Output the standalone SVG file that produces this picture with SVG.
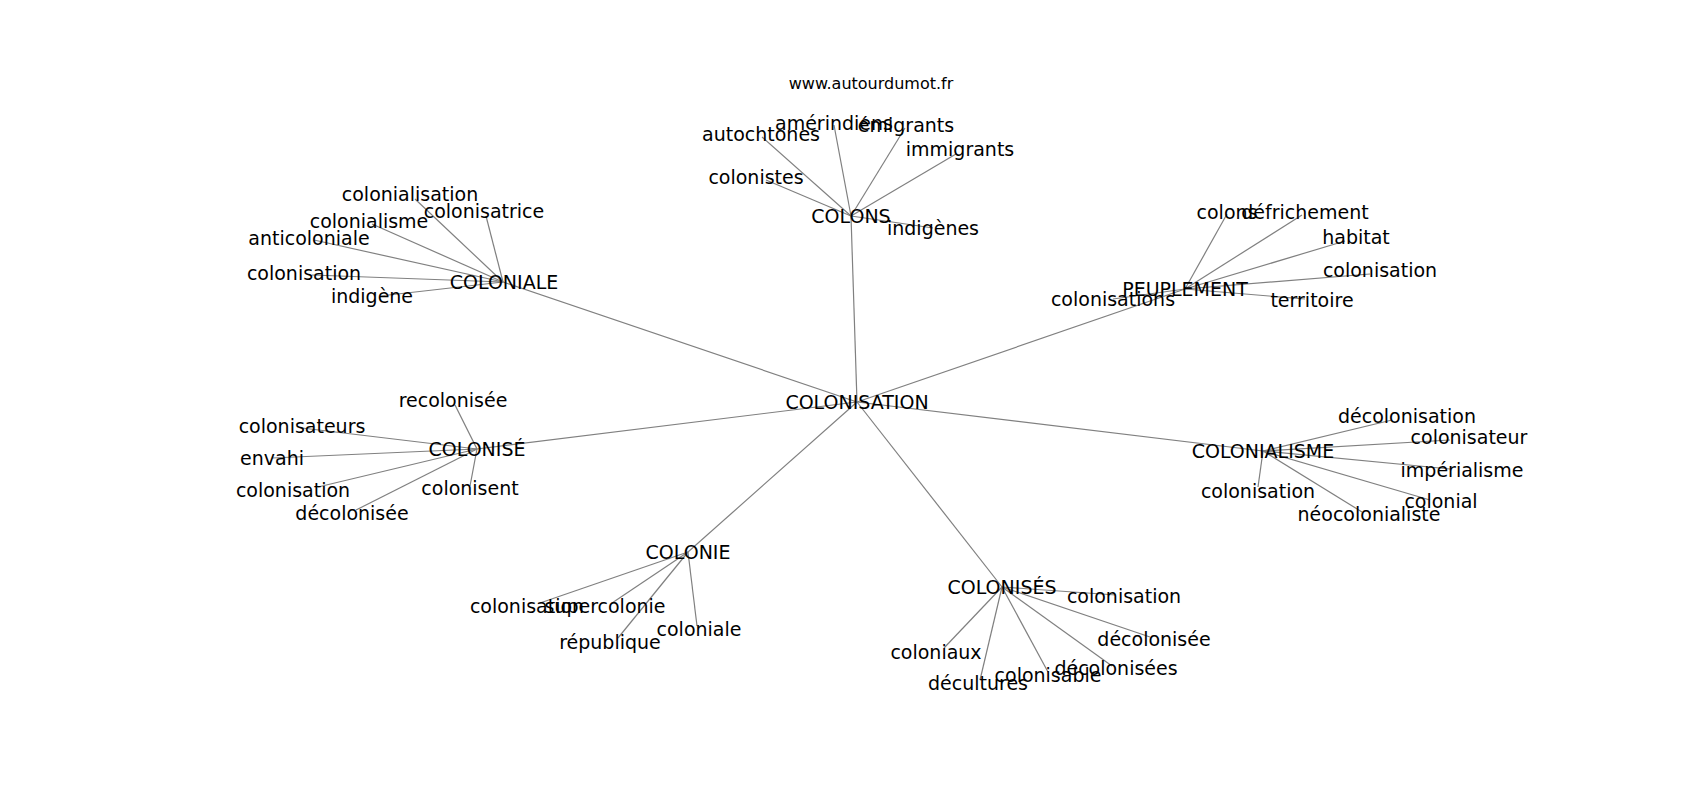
<svg xmlns="http://www.w3.org/2000/svg" width="1700" height="800" viewBox="0 0 1700 800">
<style>
text{font-family:"DejaVu Sans","Liberation Sans",sans-serif;font-size:19px;fill:#000;text-anchor:middle;dominant-baseline:central}
.title{font-size:16px}
#edges line{stroke:#808080;stroke-width:1.2}
</style>
<rect width="1700" height="800" fill="#fff"/>
<g id="edges">
<line x1="857" y1="402" x2="851" y2="216"/>
<line x1="857" y1="402" x2="503" y2="282"/>
<line x1="857" y1="402" x2="1185" y2="289"/>
<line x1="857" y1="402" x2="477" y2="449"/>
<line x1="857" y1="402" x2="1263" y2="451"/>
<line x1="857" y1="402" x2="688" y2="552"/>
<line x1="857" y1="402" x2="1002" y2="587"/>
<line x1="851" y1="216" x2="834" y2="125"/>
<line x1="851" y1="216" x2="905" y2="128"/>
<line x1="851" y1="216" x2="762" y2="137"/>
<line x1="851" y1="216" x2="956" y2="154"/>
<line x1="851" y1="216" x2="766" y2="180"/>
<line x1="851" y1="216" x2="933" y2="228"/>
<line x1="503" y1="282" x2="415" y2="199"/>
<line x1="503" y1="282" x2="486" y2="216"/>
<line x1="503" y1="282" x2="372" y2="224"/>
<line x1="503" y1="282" x2="314" y2="240"/>
<line x1="503" y1="282" x2="312" y2="275"/>
<line x1="503" y1="282" x2="380" y2="296"/>
<line x1="1185" y1="289" x2="1227" y2="214"/>
<line x1="1185" y1="289" x2="1302" y2="215"/>
<line x1="1185" y1="289" x2="1345" y2="241"/>
<line x1="1185" y1="289" x2="1370" y2="274"/>
<line x1="1185" y1="289" x2="1113" y2="299"/>
<line x1="1185" y1="289" x2="1305" y2="299"/>
<line x1="477" y1="449" x2="455" y2="405"/>
<line x1="477" y1="449" x2="302" y2="428"/>
<line x1="477" y1="449" x2="272" y2="458"/>
<line x1="477" y1="449" x2="318" y2="487"/>
<line x1="477" y1="449" x2="470" y2="486"/>
<line x1="477" y1="449" x2="356" y2="510"/>
<line x1="1263" y1="451" x2="1392" y2="420"/>
<line x1="1263" y1="451" x2="1450" y2="440"/>
<line x1="1263" y1="451" x2="1450" y2="469"/>
<line x1="1263" y1="451" x2="1258" y2="487"/>
<line x1="1263" y1="451" x2="1430" y2="500"/>
<line x1="1263" y1="451" x2="1362" y2="512"/>
<line x1="688" y1="552" x2="540" y2="603"/>
<line x1="688" y1="552" x2="612" y2="603"/>
<line x1="688" y1="552" x2="697" y2="626"/>
<line x1="688" y1="552" x2="618" y2="638"/>
<line x1="1002" y1="587" x2="1116" y2="595"/>
<line x1="1002" y1="587" x2="1150" y2="637"/>
<line x1="1002" y1="587" x2="944" y2="648"/>
<line x1="1002" y1="587" x2="1112" y2="666"/>
<line x1="1002" y1="587" x2="1048" y2="672"/>
<line x1="1002" y1="587" x2="980" y2="680"/>
</g>
<text class="title" x="871" y="83">www.autourdumot.fr</text>
<g id="n-colonisation"><text x="857" y="402">COLONISATION</text></g>
<g id="n-colons"><text x="851" y="216">COLONS</text></g>
<g id="n-colons-amerindiens"><text x="834" y="123">amérindiens</text></g>
<g id="n-colons-emigrants"><text x="906" y="125">émigrants</text></g>
<g id="n-colons-autochtones"><text x="761" y="134">autochtones</text></g>
<g id="n-colons-immigrants"><text x="960" y="149">immigrants</text></g>
<g id="n-colons-colonistes"><text x="756" y="177">colonistes</text></g>
<g id="n-colons-indigenes"><text x="933" y="228">indigènes</text></g>
<g id="n-coloniale"><text x="504" y="282">COLONIALE</text></g>
<g id="n-coloniale-colonialisation"><text x="410" y="194">colonialisation</text></g>
<g id="n-coloniale-colonisatrice"><text x="484" y="211">colonisatrice</text></g>
<g id="n-coloniale-colonialisme"><text x="369" y="221">colonialisme</text></g>
<g id="n-coloniale-anticoloniale"><text x="309" y="238">anticoloniale</text></g>
<g id="n-coloniale-colonisation"><text x="304" y="273">colonisation</text></g>
<g id="n-coloniale-indigene"><text x="372" y="296">indigène</text></g>
<g id="n-peuplement"><text x="1185" y="289">PEUPLEMENT</text></g>
<g id="n-peuplement-colons"><text x="1227" y="212">colons</text></g>
<g id="n-peuplement-defrichement"><text x="1305" y="212">défrichement</text></g>
<g id="n-peuplement-habitat"><text x="1356" y="237">habitat</text></g>
<g id="n-peuplement-colonisation"><text x="1380" y="270">colonisation</text></g>
<g id="n-peuplement-colonisations"><text x="1113" y="299">colonisations</text></g>
<g id="n-peuplement-territoire"><text x="1312" y="300">territoire</text></g>
<g id="n-colonise"><text x="477" y="449">COLONISÉ</text></g>
<g id="n-colonise-recolonisee"><text x="453" y="400">recolonisée</text></g>
<g id="n-colonise-colonisateurs"><text x="302" y="426">colonisateurs</text></g>
<g id="n-colonise-envahi"><text x="272" y="458">envahi</text></g>
<g id="n-colonise-colonisation"><text x="293" y="490">colonisation</text></g>
<g id="n-colonise-colonisent"><text x="470" y="488">colonisent</text></g>
<g id="n-colonise-decolonisee"><text x="352" y="513">décolonisée</text></g>
<g id="n-colonialisme"><text x="1263" y="451">COLONIALISME</text></g>
<g id="n-colonialisme-decolonisation"><text x="1407" y="416">décolonisation</text></g>
<g id="n-colonialisme-colonisateur"><text x="1469" y="437">colonisateur</text></g>
<g id="n-colonialisme-imperialisme"><text x="1462" y="470">impérialisme</text></g>
<g id="n-colonialisme-colonisation"><text x="1258" y="491">colonisation</text></g>
<g id="n-colonialisme-colonial"><text x="1441" y="501">colonial</text></g>
<g id="n-colonialisme-neocolonialiste"><text x="1369" y="514">néocolonialiste</text></g>
<g id="n-colonie"><text x="688" y="552">COLONIE</text></g>
<g id="n-colonie-colonisation"><text x="527" y="606">colonisation</text></g>
<g id="n-colonie-supercolonie"><text x="605" y="606">supercolonie</text></g>
<g id="n-colonie-coloniale"><text x="699" y="629">coloniale</text></g>
<g id="n-colonie-republique"><text x="610" y="642">république</text></g>
<g id="n-colonises"><text x="1002" y="587">COLONISÉS</text></g>
<g id="n-colonises-colonisation"><text x="1124" y="596">colonisation</text></g>
<g id="n-colonises-decolonisee"><text x="1154" y="639">décolonisée</text></g>
<g id="n-colonises-coloniaux"><text x="936" y="652">coloniaux</text></g>
<g id="n-colonises-decolonisees"><text x="1116" y="668">décolonisées</text></g>
<g id="n-colonises-colonisable"><text x="1048" y="675">colonisable</text></g>
<g id="n-colonises-decultures"><text x="978" y="683">décultures</text></g>
</svg>
